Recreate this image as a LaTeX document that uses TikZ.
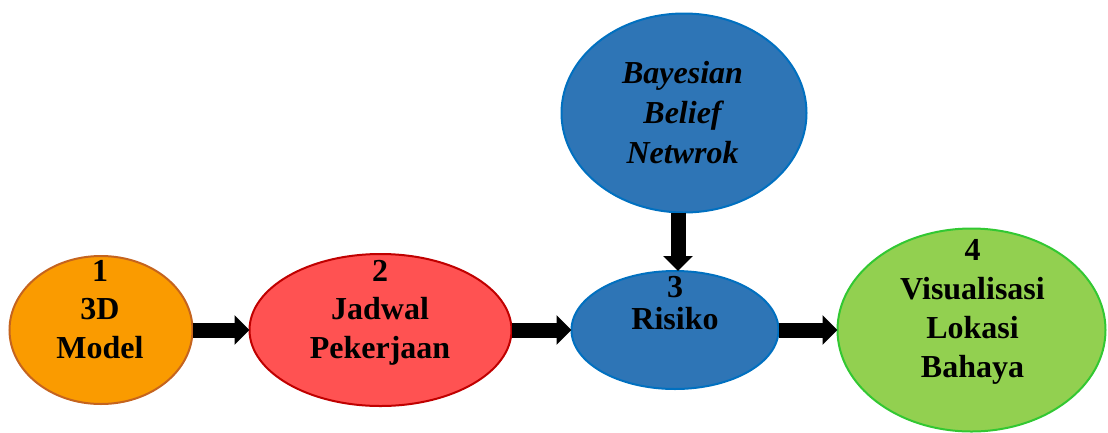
\documentclass[tikz,border=0pt]{standalone}
\usepackage{fontspec}
\setmainfont{Liberation Serif}
\usetikzlibrary{shapes.geometric,arrows.meta}

\definecolor{orangefill}{RGB}{250,155,0}
\definecolor{orangeline}{RGB}{197,100,30}
\definecolor{redfill}{RGB}{255,82,82}
\definecolor{redline}{RGB}{192,0,0}
\definecolor{bluefill}{RGB}{46,117,182}
\definecolor{blueline}{RGB}{0,112,192}
\definecolor{greenfill}{RGB}{146,208,80}
\definecolor{greenline}{RGB}{50,200,50}

\tikzset{
  blob/.style={ellipse, inner sep=0pt, outer sep=0pt, line width=2pt},
  % anchor=base sits on the baseline of the last line
  lbl/.style={anchor=base, align=center, inner sep=0pt,
    font=\fontsize{32}{38.5}\selectfont\bfseries},
  bigarrow/.style={line width=15pt,
    -{Triangle[length=15pt,width=29pt]}},
}

\begin{document}
\begin{tikzpicture}[x=1pt,y=-1pt]
  \useasboundingbox (0,0) rectangle (1108,432);

  % process stages
  \node[blob, fill=orangefill, draw=orangeline,
        minimum width=183pt, minimum height=148pt] (n1) at (101,330) {};
  \node[blob, fill=redfill, draw=redline,
        minimum width=262pt, minimum height=152pt] (n2) at (380.5,330) {};
  \node[blob, fill=bluefill, draw=blueline,
        minimum width=207pt, minimum height=118pt] (n3) at (675,330) {};
  \node[blob, fill=greenfill, draw=greenline,
        minimum width=268pt, minimum height=203pt] (n4) at (971.5,330) {};
  \node[blob, fill=bluefill, draw=blueline,
        minimum width=245pt, minimum height=199pt] (bbn) at (684,113) {};

  % labels
  \node[lbl] (t1) at (100,358) {1\\3D\\Model};
  \node[lbl] (t2) at (380,358) {2\\Jadwal\\Pekerjaan};
  \node[lbl, font=\fontsize{32}{32}\selectfont\bfseries] (t3) at (675,329) {3\\Risiko};
  \node[lbl, font=\fontsize{32}{39}\selectfont\bfseries] (t4) at (972.5,377) {4\\Visualisasi\\Lokasi\\Bahaya};
  \node[lbl, font=\fontsize{32}{40}\selectfont\bfseries\itshape] (tb) at (682.5,163) {Bayesian\\Belief\\Netwrok};

  % flow arrows
  \draw[bigarrow] (n1.east) -- (n2.west);
  \draw[bigarrow] (n2.east) -- (n3.west);
  \draw[bigarrow] (n3.east) -- (n4.west);
  \draw[bigarrow] (bbn.south -| 678,0) -- (n3.north -| 678,0);
\end{tikzpicture}
\end{document}
